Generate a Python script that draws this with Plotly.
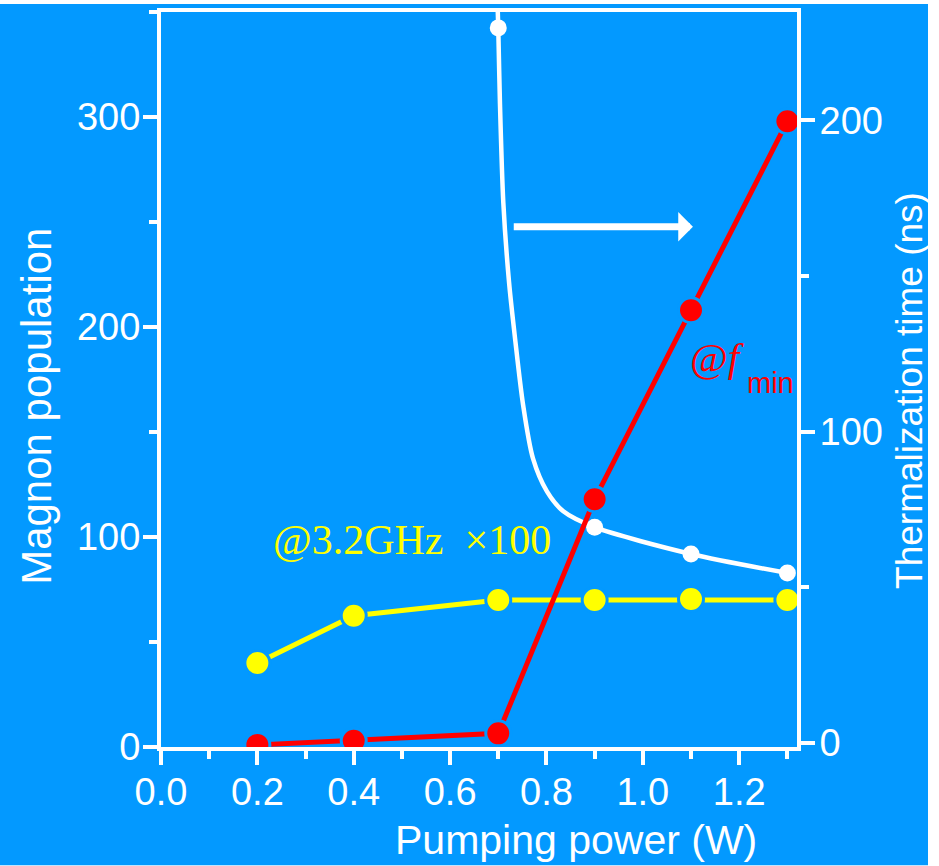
import plotly.graph_objects as go

# ---- data ----
power = [0.2, 0.4, 0.7, 0.9, 1.1, 1.3]
pop_fmin = [1, 3, 6.5, 118, 208, 298]
pop_32ghz_x100 = [40, 62.5, 70, 70, 70.5, 70]

therm_power = [0.7, 0.9, 1.1, 1.3]
therm_time = [229.7, 69.3, 60.7, 54.6]

fit_power = [0.699, 0.700, 0.7035, 0.7105, 0.7224, 0.735, 0.7515, 0.772, 0.801, 0.835, 0.9, 1.1, 1.3]
fit_time = [234.8, 229.7, 205.4, 173.5, 147.9, 129.7, 108.6, 91.4, 80.8, 74.4, 69.3, 60.7, 54.6]

x_ticks = [0.0, 0.2, 0.4, 0.6, 0.8, 1.0, 1.2]
x_ticklabels = ["0.0", "0.2", "0.4", "0.6", "0.8", "1.0", "1.2"]

BG = "#0399FF"
W = "white"
RED = "#FF0000"
YEL = "#FFFF00"
SANS = "Liberation Sans, Arial, sans-serif"
SERIF = "Liberation Serif, Times New Roman, serif"

fig = go.Figure()

fig.add_trace(go.Scatter(
    x=power, y=pop_32ghz_x100, mode="lines+markers", yaxis="y",
    line=dict(color=YEL, width=5),
    marker=dict(size=25, color=YEL, line=dict(color=BG, width=3)),
))
fig.add_trace(go.Scatter(
    x=fit_power, y=fit_time, mode="lines", yaxis="y2",
    line=dict(color=W, width=4.5, shape="spline", smoothing=0.8),
))
fig.add_trace(go.Scatter(
    x=therm_power, y=therm_time, mode="markers", yaxis="y2",
    marker=dict(size=17, color=W),
))
fig.add_trace(go.Scatter(
    x=power, y=pop_fmin, mode="lines+markers", yaxis="y3",
    line=dict(color=RED, width=5),
    marker=dict(size=25, color=RED, line=dict(color=BG, width=3)),
))

L, R, T, B = 161, 142, 8, 119
PW = 939 - L - R
PH = 866 - T - B

def px(xp):
    return (xp - L) / PW

def py(yp):
    return (866 - B - yp) / PH

axis_common = dict(
    showgrid=False, zeroline=False, showline=True, linecolor=W, linewidth=4,
    ticks="outside", ticklen=14, tickwidth=4, tickcolor=W,
    tickfont=dict(family=SANS, size=38, color=W),
)

fig.update_layout(
    width=939, height=866,
    margin=dict(l=L, r=R, t=T, b=B),
    paper_bgcolor="white", plot_bgcolor="rgba(0,0,0,0)",
    showlegend=False,
    font=dict(family=SANS, color=W),
    xaxis=dict(
        range=[0, 1.32], tickvals=x_ticks, ticktext=x_ticklabels, mirror=True,
        ticklabelstandoff=-6,
        minor=dict(dtick=0.1, tick0=0, ticklen=8, tickwidth=4, tickcolor=W, ticks="outside"),
        **axis_common,
    ),
    yaxis=dict(
        range=[0, 350], dtick=100, tick0=0, ticklabelstandoff=-5,
        minor=dict(dtick=50, tick0=0, ticklen=8, tickwidth=4, tickcolor=W, ticks="outside"),
        **axis_common,
    ),
    yaxis2=dict(
        range=[-1.3, 234.8], dtick=100, tick0=0, overlaying="y", side="right",
        ticklabelstandoff=-3,
        minor=dict(dtick=50, tick0=0, ticklen=8, tickwidth=4, tickcolor=W, ticks="outside"),
        **axis_common,
    ),
    yaxis3=dict(range=[0, 350], overlaying="y", visible=False),
    shapes=[dict(
        type="rect", xref="paper", yref="paper", layer="below",
        x0=px(0), x1=px(928), y0=py(866), y1=py(0),
        fillcolor=BG, line=dict(width=0),
    )],
    annotations=[
        dict(text="Pumping power (W)", xref="paper", yref="paper", x=px(576), y=py(841),
             showarrow=False, xanchor="center", yanchor="middle",
             font=dict(family=SANS, size=41, color=W)),
        dict(text="Magnon population", xref="paper", yref="paper", x=px(37), y=py(405),
             showarrow=False, textangle=-90, xanchor="center", yanchor="middle",
             font=dict(family=SANS, size=42, color=W)),
        dict(text="Thermalization time (ns)", xref="paper", yref="paper", x=px(910), y=py(388),
             showarrow=False, textangle=-90, xanchor="center", yanchor="middle",
             font=dict(family=SANS, size=37, color=W)),
        dict(text="@3.2GHz\u00a0\u00a0×100", xref="paper", yref="paper", x=px(412), y=py(539),
             showarrow=False, xanchor="center", yanchor="middle",
             font=dict(family=SERIF, size=42, color=YEL)),
        dict(text="@<i>f</i>", xref="paper", yref="paper", x=px(746), y=py(355),
             showarrow=False, xanchor="right", yanchor="middle", borderpad=0,
             font=dict(family=SERIF, size=41, color=RED)),
        dict(text="min", xref="paper", yref="paper", x=px(746), y=py(381),
             showarrow=False, xanchor="left", yanchor="middle", borderpad=0,
             font=dict(family=SANS, size=29, color=RED)),
        dict(text="", xref="x", yref="y2", axref="x", ayref="y2",
             x=1.104, y=165.8, ax=0.729, ay=165.8,
             showarrow=True, arrowhead=1, arrowsize=0.7, arrowwidth=7, arrowcolor=W,
             standoff=0, startstandoff=0),
    ],
)

fig.write_html("out.html")
